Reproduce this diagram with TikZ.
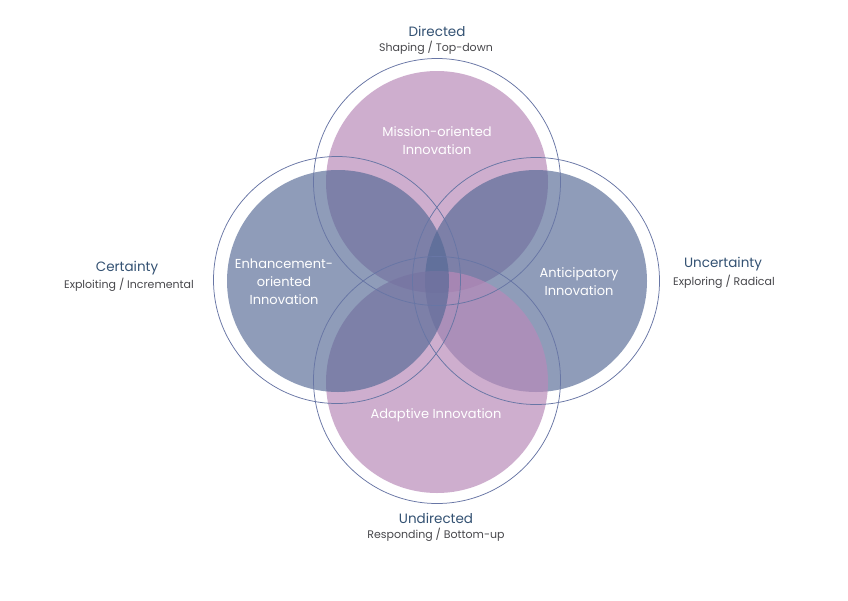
\documentclass[tikz,border=0pt]{standalone}
\usepackage{fontspec}
\setmainfont{Poppins}
\definecolor{pinkfill}{RGB}{185,138,185}
\definecolor{bluefill}{RGB}{83,104,149}
\definecolor{ringc}{RGB}{104,118,165}
\definecolor{titlec}{RGB}{52,82,115}
\definecolor{subc}{RGB}{72,72,76}
\begin{document}
\begin{tikzpicture}[x=1pt,y=-1pt,
  fillc/.style={circle, inner sep=0pt, minimum size=222pt},
  pinkc/.style={fillc, fill=pinkfill, fill opacity=0.69},
  bluec/.style={fillc, fill=bluefill, fill opacity=0.65},
  ringc/.style={circle, inner sep=0pt, minimum size=247pt, draw=ringc, line width=0.75pt},
  titletxt/.style={text=titlec, font=\fontsize{13.5}{15}\selectfont, inner sep=0pt},
  subtxt/.style={text=subc, font=\fontsize{11}{13}\selectfont, inner sep=0pt},
  intxt/.style={text=white, font=\fontsize{13}{18}\selectfont, align=center, inner sep=0pt}
]
\useasboundingbox (0,0) rectangle (848,600);
\fill[white] (0,0) rectangle (848,600);

% filled circles (order: top, right, bottom, left)
\node[pinkc] (topF) at (437,182) {};
\node[bluec] (rightF) at (536,281) {};
\node[pinkc] (bottomF) at (437,382) {};
\node[bluec] (leftF) at (338,281) {};

% outer rings
\node[ringc] (topR) at (437,182) {};
\node[ringc] (rightR) at (536,281) {};
\node[ringc] (bottomR) at (437,380) {};
\node[ringc] (leftR) at (337,280) {};

% inner labels
\node[intxt] (topL) at (437,141) {Mission-oriented\\Innovation};
\node[intxt] (leftL) at (284,282) {Enhancement-\\oriented\\Innovation};
\node[intxt] (rightL) at (579,282) {Anticipatory\\Innovation};
\node[intxt] (bottomL) at (436,415) {Adaptive Innovation};

% outer labels
\node[titletxt] (dirT) at (437,31) {Directed};
\node[subtxt] (dirS) at (436,48) {Shaping / Top-down};
\node[titletxt] (cerT) at (127,268) {Certainty};
\node[subtxt] (cerS) at (129,285) {Exploiting / Incremental};
\node[titletxt] (uncT) at (723,264) {Uncertainty};
\node[subtxt] (uncS) at (724,282) {Exploring / Radical};
\node[titletxt] (undT) at (436,518) {Undirected};
\node[subtxt] (undS) at (436,535) {Responding / Bottom-up};
\end{tikzpicture}
\end{document}
